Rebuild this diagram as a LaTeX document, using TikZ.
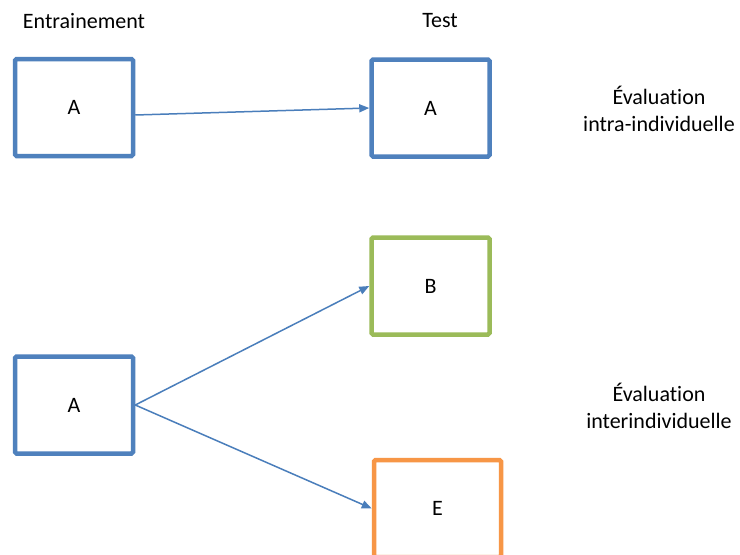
\documentclass[tikz,border=0pt]{standalone}
\usepackage{fontspec}
\setmainfont[Ligatures=NoCommon]{Carlito}
\usetikzlibrary{arrows.meta}
\definecolor{bluebox}{HTML}{4F81BD}
\definecolor{greenbox}{HTML}{9BBB59}
\definecolor{orangebox}{HTML}{F79646}
\definecolor{arrowblue}{HTML}{4A7EBB}
\tikzset{
  box/.style={draw=#1, line width=4.5pt, rounded corners=1.5pt, fill=white,
    minimum width=118pt, minimum height=97pt, inner sep=0pt,
    font=\fontsize{22}{27}\selectfont},
  lbl/.style={align=center, inner sep=0pt, font=\fontsize{22}{27}\selectfont},
  conn/.style={draw=arrowblue, line width=1.5pt, -{Triangle[length=10pt,width=8pt]}}
}
\begin{document}
\begin{tikzpicture}[x=1pt,y=-1pt]
\useasboundingbox[fill=white] (0,0) rectangle (740,555);
\node[lbl] (ent) at (84,21) {Entrainement};
\node[lbl] (test) at (440,21) {Test};
\node[box=bluebox] (a1) at (74,107.5) {A};
\node[box=bluebox] (a2) at (430.5,108) {A};
\node[box=greenbox] (b) at (430.5,286) {B};
\node[box=bluebox] (a3) at (74,405) {A};
\begin{scope}
\clip (0,0) rectangle (740,555);
\node[box=orangebox, minimum width=127pt] (e) at (437.5,508.5) {E};
\end{scope}
\node[lbl] (ev1) at (659,109) {Évaluation\\intra-individuelle};
\node[lbl] (ev2) at (659,405.5) {Évaluation\\interindividuelle};
\draw[conn] ([yshift=-7.5pt]a1.east) -- (a2.west);
\draw[conn] (a3.east) -- (b.west);
\draw[conn] (a3.east) -- (e.west);
\end{tikzpicture}
\end{document}
